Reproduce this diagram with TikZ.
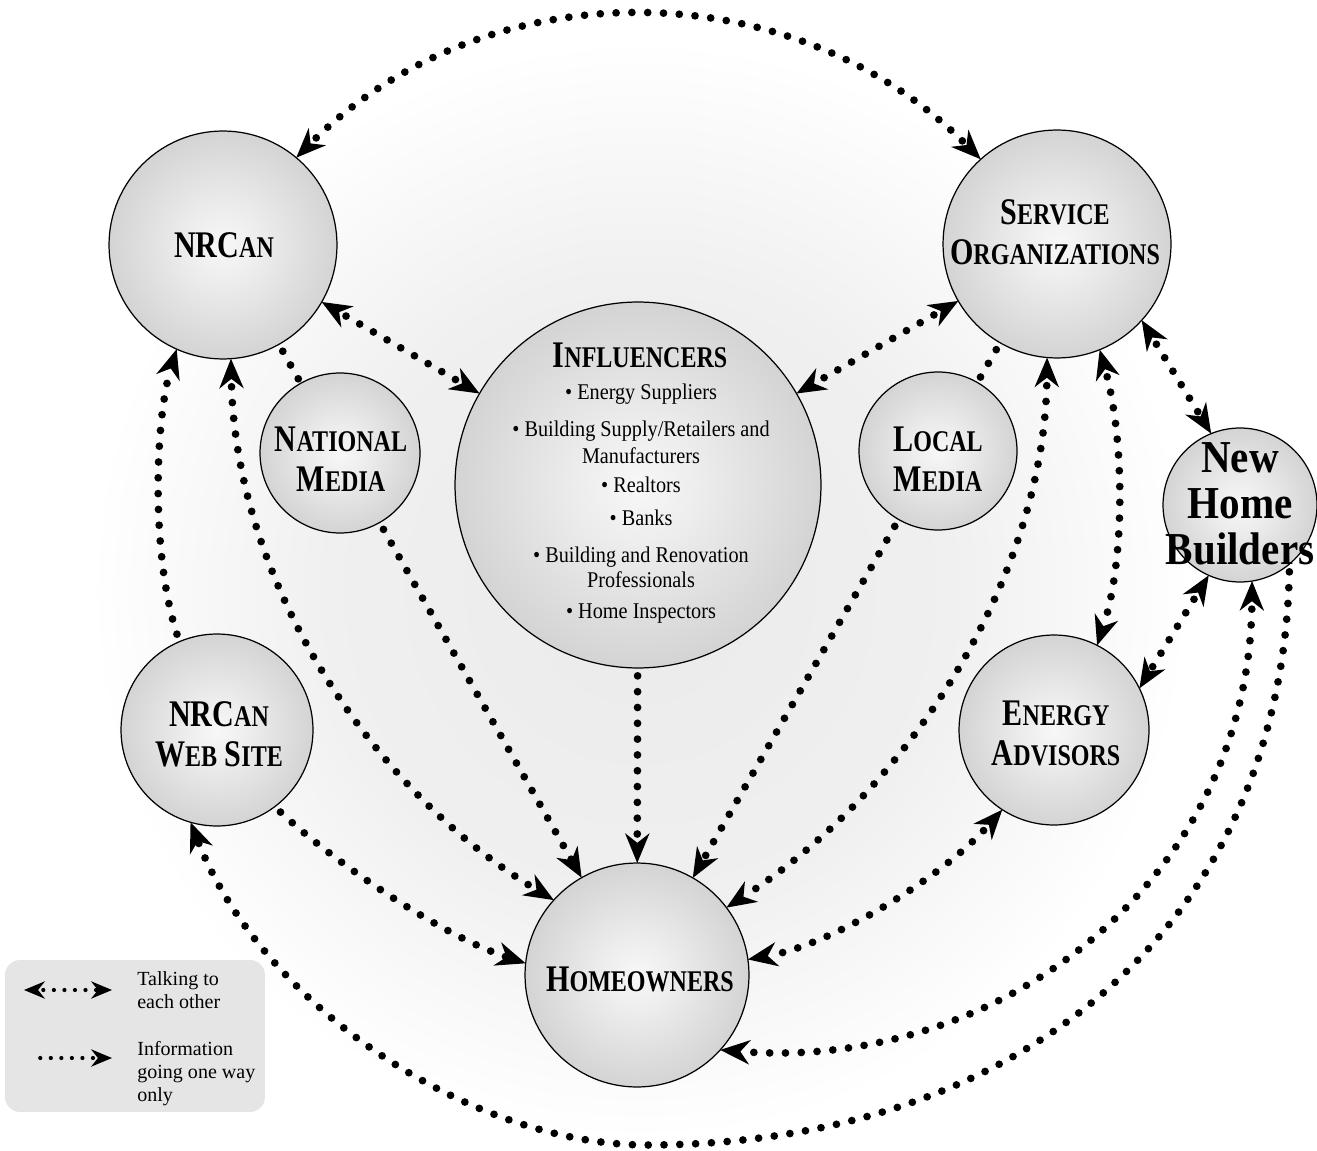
\documentclass[tikz,border=0pt]{standalone}
\usepackage{fontspec}
\setmainfont{Liberation Serif}
\newfontfamily\ttlfont{Liberation Serif}[FakeStretch=0.8]
\newfontfamily\lstfont{Liberation Serif}[FakeStretch=0.9]
\usetikzlibrary{arrows.meta}
\pgfdeclarelayer{bgl}
\pgfdeclarelayer{edges}
\pgfsetlayers{bgl,edges,main}
\pgfdeclareradialshading{bgshade}{\pgfpoint{0bp}{0bp}}{color(0bp)=(black!8); color(14bp)=(black!6); color(25bp)=(white); color(50bp)=(white)}
\pgfdeclareradialshading{ballshade}{\pgfpoint{0bp}{0bp}}{color(0bp)=(black!3); color(8bp)=(black!7); color(25bp)=(black!17); color(50bp)=(black!17)}
\newcommand\TT[2]{{\fontsize{21.4pt}{22.7pt}\selectfont #1}{\fontsize{17.1pt}{22.7pt}\selectfont #2}}
\tikzset{
 MyTip/.tip={Stealth[length=17pt,width=14pt,inset=5.5pt,line width=0pt]},
 LegTip/.tip={Stealth[length=12pt,width=10pt,inset=4pt,line width=0pt]},
 dotline/.style={line width=4.4pt, line cap=round, dash pattern=on 0pt off 9pt, dash phase=4.5pt},
 tw/.style={dotline, MyTip-MyTip},
 ow/.style={dotline, -MyTip},
 dotplain/.style={dotline},
 ball/.style={circle, draw=black, line width=0.7pt, shading=ballshade, inner sep=0pt, outer sep=0pt},
 ttl/.style={align=center, inner sep=0pt, font=\ttlfont\bfseries\fontsize{21.4pt}{22.7pt}\selectfont},
 nhbtxt/.style={align=center, inner sep=0pt, font=\lstfont\bfseries\fontsize{26pt}{26pt}\selectfont},
 lst/.style={anchor=base, inner sep=0pt, font=\lstfont\fontsize{12.8pt}{14.5pt}\selectfont},
 legtxt/.style={anchor=north west, align=left, inner sep=0pt, font=\fontsize{11.4pt}{13pt}\selectfont},
 legline/.style={line width=2.4pt, line cap=round, dash pattern=on 0pt off 6pt, dash phase=3pt},
 legbox/.style={fill=black!10, rounded corners=0.3cm, inner sep=0pt},
}
\begin{document}
\begin{tikzpicture}[x=0.02cm,y=-0.02cm]
\clip (0,0) rectangle (1317,1151);
\begin{pgfonlayer}{bgl}
\shade[shading=bgshade] (640,590) circle[radius=11cm];
\end{pgfonlayer}

% circles
\node[ball, minimum size=4.56cm] (nrcan) at (223,245) {};
\node[ball, minimum size=4.56cm] (so) at (1057,244) {};
\node[ball, minimum size=7.32cm] (infl) at (638,485) {};
\node[ball, minimum size=3.2cm] (natm) at (340,453) {};
\node[ball, minimum size=3.16cm] (locm) at (938,451) {};
\node[ball, minimum size=3.08cm] (nhb) at (1240,505) {};
\node[ball, minimum size=3.84cm] (web) at (217,730) {};
\node[ball, minimum size=3.8cm] (ea) at (1054,730) {};
\node[ball, minimum size=4.48cm] (home) at (637,975) {};
\coordinate (bot) at (647,1145);

% titles
\node[ttl] (nrcan-t) at (224,245) {\TT{NRC}{AN}};
\node[ttl] (so-t) at (1055,232) {\TT{S}{ERVICE}\\\TT{O}{RGANIZATIONS}};
\node[ttl] (natm-t) at (341,459) {\TT{N}{ATIONAL}\\\TT{M}{EDIA}};
\node[ttl] (locm-t) at (938,459) {\TT{L}{OCAL}\\\TT{M}{EDIA}};
\node[nhbtxt] (nhb-t) at (1240,504) {New\\Home\\Builders};
\node[ttl] (web-t) at (219,734) {\TT{NRC}{AN}\\\TT{W}{EB} \TT{S}{ITE}};
\node[ttl] (ea-t) at (1056,733) {\TT{E}{NERGY}\\\TT{A}{DVISORS}};
\node[ttl] (home-t) at (640,979) {\TT{H}{OMEOWNERS}};

% influencers text
\node[ttl, anchor=base] (infl-t) at (640,368) {\TT{I}{NFLUENCERS}};
\node[lst] (i1) at (641,400) {• Energy Suppliers};
\node[lst] (i2) at (641,437) {• Building Supply/Retailers and};
\node[lst] (i3) at (641,463) {Manufacturers};
\node[lst] (i4) at (641,493) {• Realtors};
\node[lst] (i5) at (641,525) {• Banks};
\node[lst] (i6) at (641,562) {• Building and Renovation};
\node[lst] (i7) at (641,587) {Professionals};
\node[lst] (i8) at (641,618) {• Home Inspectors};

% connectors
\begin{pgfonlayer}{edges}
\draw[tw] (nrcan.50) .. controls (486,-32) and (791,-31) .. (so.132);
\draw[tw] (nrcan.-30) -- (infl.150);
\draw[tw] (so.210) -- (infl.30);
\draw[dotplain] (nrcan) -- (natm);
\draw[ow] (natm) -- (home);
\draw[dotplain] (so) -- (locm);
\draw[ow] (locm) -- (home);
\draw[ow] (infl) -- (home);
\draw[tw] (nrcan.-86) .. controls (235,580) and (370,790) .. (home.138);
\draw[ow] (web.113) .. controls (150,560) and (155,420) .. (nrcan.-114);
\draw[ow] (web.-53) .. controls (330,860) and (440,935) .. (home.174);
\draw[ow] (nhb.-50) .. controls (1285,923) and (1023,1145) .. (bot) .. controls (470,1145) and (262,1005) .. (web.-106);
\draw[tw] (nhb.-81) .. controls (1250,880) and (1000,1072) .. (home.-42);
\draw[tw] (so.-42) -- (nhb.112);
\draw[tw] (so.-68) .. controls (1125,440) and (1125,560) .. (ea.63);
\draw[tw] (nhb.-114) -- (ea.26);
\draw[tw] (ea.-123) .. controls (940,880) and (830,945) .. (home.8);
\draw[tw] (so.-95) .. controls (1045,575) and (910,790) .. (home.37);
\end{pgfonlayer}

% legend
\node[legbox, minimum width=5.2cm, minimum height=3.04cm] (legend) at (135,1036) {};
\coordinate (la1) at (24,990);
\coordinate (lb1) at (112,990);
\coordinate (la2) at (35,1058);
\coordinate (lb2) at (112,1058);
\draw[legline, LegTip-LegTip] (la1) -- (lb1);
\draw[legline, -LegTip] (la2) -- (lb2);
\node[legtxt] (lt1) at (137,971) {Talking to\\each other};
\node[legtxt] (lt2) at (137,1041) {Information\\going one way\\only};
\end{tikzpicture}
\end{document}
